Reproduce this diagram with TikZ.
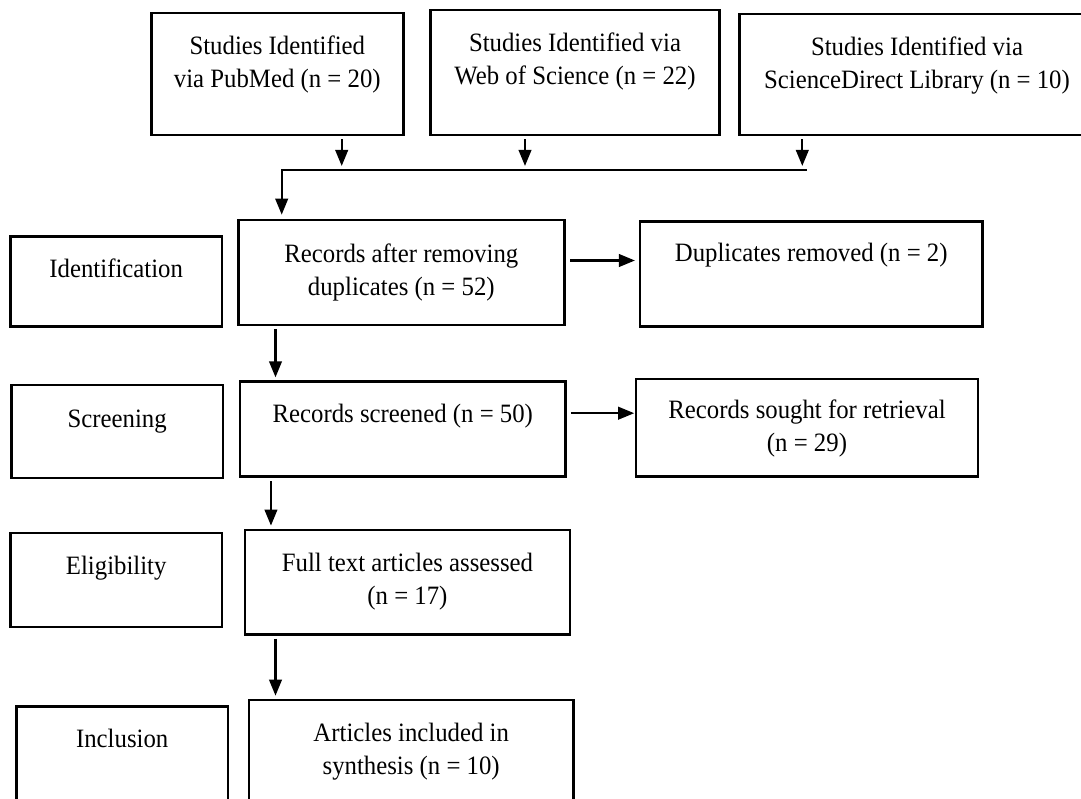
\documentclass[tikz,border=0pt]{standalone}
\usepackage{fontspec}
\setmainfont{Liberation Serif}[FakeStretch=0.935]
\usetikzlibrary{positioning,arrows.meta}
\tikzset{
    box/.style={draw, line width=2.6pt, inner sep=0pt},
    txt/.style={font=\fontsize{26.5}{33}\selectfont, align=center, inner sep=0pt},
    arr/.style={-{Triangle[length=16pt,width=12.5pt]}, line width=2.3pt, shorten <=3pt, shorten >=3pt}
}
\begin{document}
\begin{tikzpicture}[x=1pt, y=-1pt]
    \useasboundingbox (0,0) rectangle (1081,799);
    \fill[white] (0,0) rectangle (1081,799);

    % sources
    \node[box, minimum width=252pt, minimum height=122pt] (pub) at (277.3,74.2) {};
    \node[box, minimum width=288.6pt, minimum height=125pt] (wos) at (575,72.5) {};
    \node[box, minimum width=355.4pt, minimum height=121pt] (sd) at (917,74.5) {};
    \node[txt, below=24pt of pub.north] (pubtxt) {Studies Identified\\via PubMed (n = 20)};
    \node[txt, below=24pt of wos.north] (wostxt) {Studies Identified via\\Web of Science (n = 22)};
    \node[txt, below=24pt of sd.north] (sdtxt) {Studies Identified via\\ScienceDirect Library (n = 10)};

    % stages
    \node[box, minimum width=211.7pt, minimum height=90pt] (ident) at (116.2,281.7) {};
    \node[box, minimum width=211.6pt, minimum height=93pt] (scr) at (117.2,431.5) {};
    \node[box, minimum width=211.7pt, minimum height=93.7pt] (elig) at (116.2,580) {};
    \node[box, minimum width=211.5pt, minimum height=93.3pt] (incl) at (122.2,753.3) {};
    \node[txt, below=23pt of ident.north] (identtxt) {Identification};
    \node[txt, below=26pt of scr.north] (scrtxt) {Screening};
    \node[txt, below=24pt of elig.north] (eligtxt) {Eligibility};
    \node[txt, below=24pt of incl.north] (incltxt) {Inclusion};

    % flow
    \node[box, minimum width=326pt, minimum height=105pt] (rad) at (401.3,272.5) {};
    \node[box, minimum width=325.7pt, minimum height=95pt] (rs) at (402.8,429.2) {};
    \node[box, minimum width=325pt, minimum height=104.5pt] (full) at (407.5,582.2) {};
    \node[box, minimum width=324.5pt, minimum height=100pt] (art) at (411.2,750) {};
    \node[txt, below=25pt of rad.north] (radtxt) {Records after removing\\duplicates (n = 52)};
    \node[txt, below=24pt of rs.north] (rstxt) {Records screened (n = 50)};
    \node[txt, below=24pt of full.north] (fulltxt) {Full text articles assessed\\(n = 17)};
    \node[txt, below=24pt of art.north] (arttxt) {Articles included in\\synthesis (n = 10)};

    \node[box, minimum width=342.5pt, minimum height=105pt] (dup) at (811.2,274.2) {};
    \node[box, minimum width=342pt, minimum height=97.7pt] (sought) at (807,427.8) {};
    \node[txt, below=23pt of dup.north] (duptxt) {Duplicates removed (n = 2)};
    \node[txt, below=22pt of sought.north] (soughttxt) {Records sought for retrieval\\(n = 29)};

    % connectors
    \coordinate (busL) at (281.7,170); \coordinate (busR) at (806.7,170);
    \foreach \b/\dx in {pub/64.4, wos/-50, sd/-114.7}
        \draw[arr, shorten >=4pt] ([xshift=\dx pt]\b.south) -- ([xshift=\dx pt]\b.south |- busL);
    \draw[arr, shorten <=0pt, shorten >=4pt] (busR) -- (busL) -- (busL |- rad.north);
    \draw[arr, shorten <=4.4pt, shorten >=3.7pt] ([yshift=12pt]rad.east) -- ([yshift=12pt]rad.east -| dup.west);
    \draw[arr, shorten <=4pt, shorten >=0.5pt] ([yshift=16pt]rs.east) -- ([yshift=16pt]rs.east -| sought.west);
    \draw[arr] ([xshift=38.5pt]rad.south west) -- ([xshift=38.5pt]rad.south west |- rs.north);
    \draw[arr] ([xshift=32.3pt]rs.south west) -- ([xshift=32.3pt]rs.south west |- full.north);
    \draw[arr] ([xshift=31.8pt]full.south west) -- ([xshift=31.8pt]full.south west |- art.north);
\end{tikzpicture}
\end{document}
